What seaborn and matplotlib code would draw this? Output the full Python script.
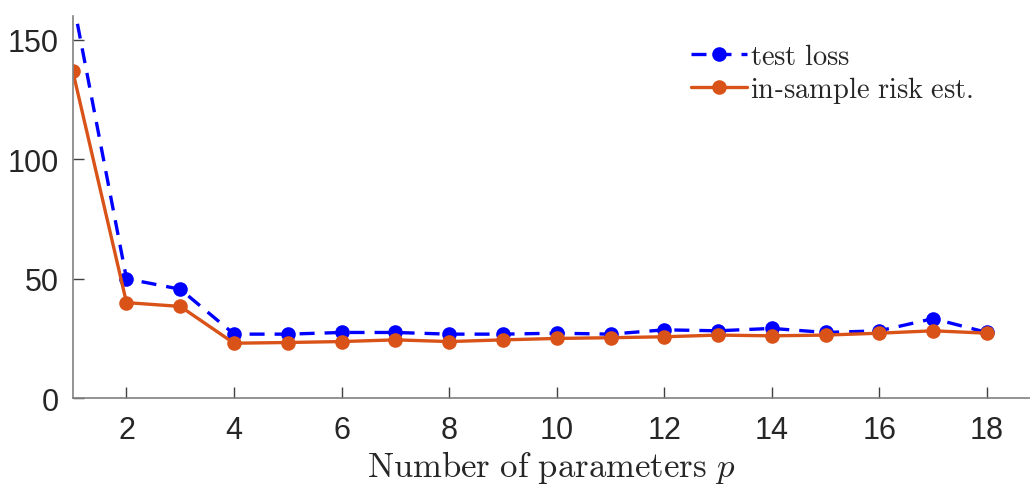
import matplotlib
matplotlib.use('Agg')
import matplotlib.pyplot as plt
import seaborn as sns
import pandas as pd

# values
params = list(range(1, 19))
test_loss = [167, 50, 45.6, 26.8, 26.8, 27.5, 27.5, 26.8, 26.8, 27.2,
             26.8, 28.6, 28.2, 29.2, 27.5, 28.2, 33.3, 27.5]
insample_risk = [137, 40, 38.4, 23.0, 23.3, 23.7, 24.4, 23.7, 24.4, 25.0,
                 25.3, 25.7, 26.4, 26.1, 26.4, 27.2, 28.2, 27.2]
x_ticks = list(range(2, 19, 2))
y_ticks = [0, 50, 100, 150]

blue = '#0000ff'
orange = '#d95319'


def main():
    sns.set_theme(style='white')
    plt.rcParams['font.family'] = ['Liberation Sans', 'DejaVu Sans']
    plt.rcParams['mathtext.fontset'] = 'cm'

    df = pd.DataFrame({'p': params, 'test': test_loss, 'risk': insample_risk})

    fig = plt.figure(figsize=(10.3, 4.85), dpi=100)
    ax = fig.add_axes([0.0706, 0.177, 0.9294, 0.788])

    # test loss: dashed blue
    sns.lineplot(data=df, x='p', y='test', ax=ax, color=blue, lw=2.4,
                 marker='o', markersize=10.5, markeredgewidth=0)
    ax.lines[-1].set_linestyle((0, (4.5, 3)))
    # in-sample risk: solid orange, drawn on top
    sns.lineplot(data=df, x='p', y='risk', ax=ax, color=orange, lw=2.4,
                 marker='o', markersize=10.5, markeredgewidth=0)

    ax.set_xlim(1, 18.8)
    ax.set_ylim(0, 160)
    ax.set_xticks(x_ticks)
    ax.set_yticks(y_ticks)
    ax.tick_params(bottom=True, left=True, direction='in', length=8, width=1,
                   color='#404040', labelsize=22, labelcolor='#262626')
    ax.tick_params(axis='x', pad=12)
    ax.tick_params(axis='y', pad=10)
    sns.despine(ax=ax)
    for s in ['left', 'bottom']:
        ax.spines[s].set_color('#808080')
        ax.spines[s].set_linewidth(1.2)

    ax.set_xlabel(r'$\mathrm{Number\ of\ parameters}\ p$', fontsize=25,
                  color='#262626', labelpad=2)
    ax.set_ylabel('')

    ax.legend(handles=ax.lines[:2],
              labels=[r'$\mathrm{test\ loss}$', r'$\mathrm{in}$-$\mathrm{sample\ risk\ est.}$'],
              loc='upper right', bbox_to_anchor=(0.967, 0.995), frameon=False,
              fontsize=20.5, handlelength=1.95, handletextpad=0.1, labelspacing=0.15)

    fig.savefig('out.png', dpi=100)


if __name__ == "__main__":
    main()
